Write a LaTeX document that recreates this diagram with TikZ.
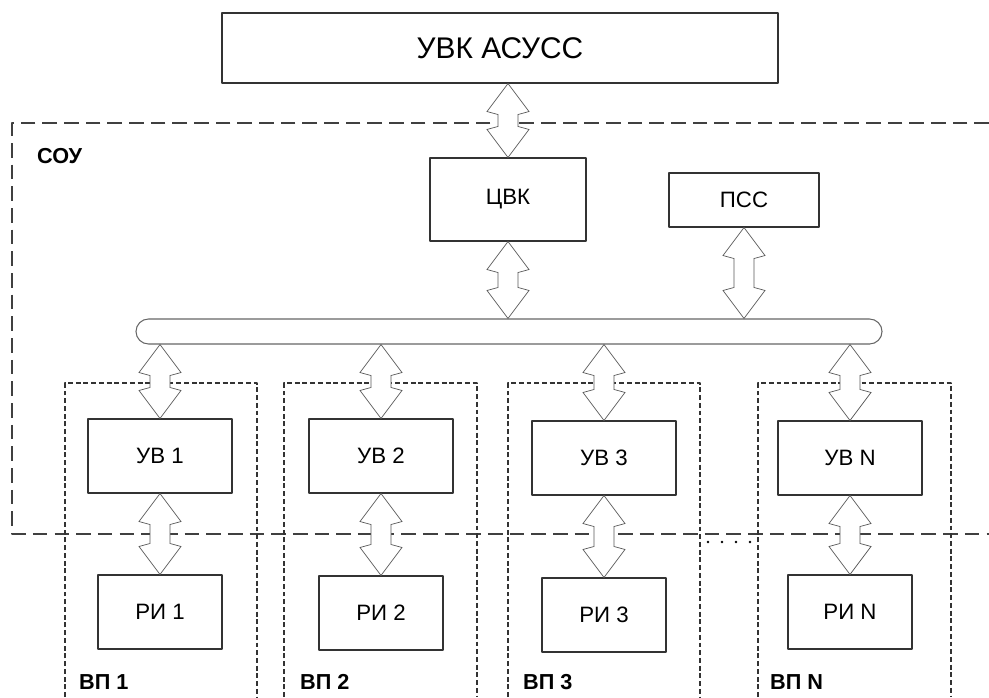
\documentclass[tikz,border=0pt]{standalone}
\usepackage{fontspec}
\setmainfont{Liberation Sans}
\usetikzlibrary{calc}
\tikzset{
  blok/.style={draw=black!80,line width=0.9pt,fill=white,inner sep=0pt,font=\fontsize{19}{21}\selectfont},
  uvbox/.style={blok,minimum width=4.32cm,minimum height=2.22cm},
  ribox/.style={blok,minimum width=3.72cm,minimum height=2.22cm},
  dblarr/.style={draw=black!65,fill=white,line width=0.6pt,line join=miter},
  sou/.style={draw=black!75,line width=1pt,dash pattern=on 12.5pt off 6pt},
  vp/.style={draw=black!80,line width=0.9pt,dash pattern=on 4.2pt off 2.4pt},
  lbl/.style={font=\bfseries\fontsize{18.5}{20}\selectfont,inner sep=0pt,anchor=base west}
}
\newcommand{\dblarrow}[2]{%
  \draw[dblarr] ($(#1)$) -- ($(#1)+(-21,28)$) -- ($(#1)+(-10,31)$) -- ($(#2)+(-10,-31)$) -- ($(#2)+(-21,-28)$) -- ($(#2)$)
    -- ($(#2)+(21,-28)$) -- ($(#2)+(10,-31)$) -- ($(#1)+(10,31)$) -- ($(#1)+(21,28)$) -- cycle;}
\begin{document}
\begin{tikzpicture}[x=0.03cm,y=-0.03cm,line join=round]
\useasboundingbox (0,0) rectangle (989,697);
\draw[sou] (989,123) -- (12,123) -- (12,534) -- (989,534);
\foreach \xa/\xb in {65/257,284/477,508/700,758/951}
  \draw[vp] (\xa,697) -- (\xa,383) -- (\xb,383) -- (\xb,697);
\foreach \xd in {708,722,736,750}
  \fill[black] (\xd,542) circle (1.1pt);
\node[lbl] (sou) at (37,163) {СОУ};
\node[blok,minimum width=16.68cm,minimum height=2.1cm,font=\fontsize{25.5}{28}\selectfont] (uvk) at (500,48) {УВК АСУСС};
\node[blok,minimum width=4.68cm,minimum height=2.49cm] (cvk) at (508,199.5) {ЦВК};
\node[blok,minimum width=4.5cm,minimum height=1.62cm] (pss) at (744,200) {ПСС};
\node[blok,draw=black!60,rounded corners=0.375cm,minimum width=22.38cm,minimum height=0.75cm] (bus) at (509,331.5) {};
\dblarrow{uvk.south -| cvk.north}{cvk.north}
\dblarrow{cvk.south}{bus.north -| cvk.south}
\dblarrow{pss.south}{bus.north -| pss.south}
\foreach \n/\t/\xc/\yu/\yr/\xl in {1/1/160/456/612/79,2/2/381/456/613/300,3/3/604/458/615/523,4/N/850/458/612/770} {
  \node[uvbox] (uv\n) at (\xc,\yu) {УВ \t};
  \node[ribox] (ri\n) at (\xc,\yr) {РИ \t};
  \node[lbl] (vp\n) at (\xl,689) {ВП \t};
  \dblarrow{bus.south -| uv\n.north}{uv\n.north}
  \dblarrow{uv\n.south}{ri\n.north}
}
\end{tikzpicture}
\end{document}
